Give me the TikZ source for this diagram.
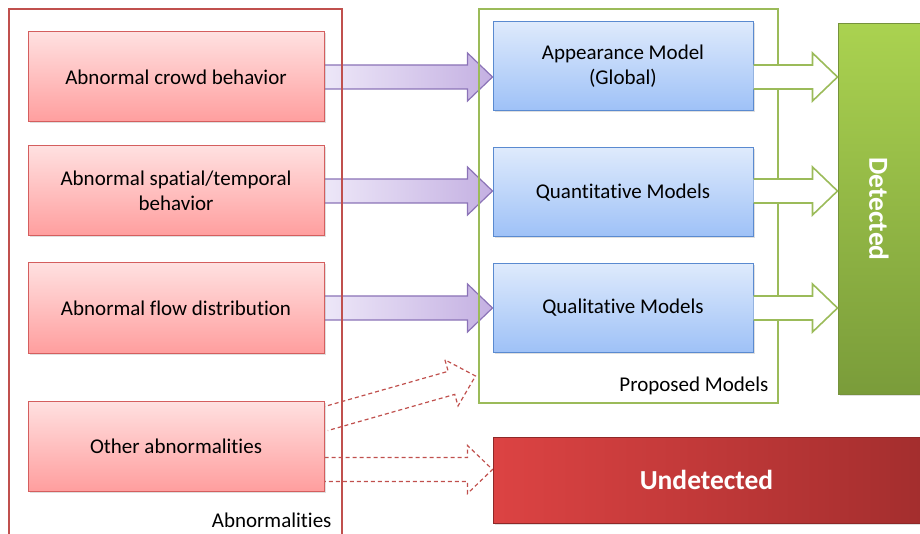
\documentclass[tikz,border=0pt]{standalone}
\usepackage{fontspec}
\setmainfont{Carlito}[Ligatures=NoCommon]
\usetikzlibrary{calc,shadows,backgrounds}

\definecolor{boxred}{HTML}{D45E5E}
\definecolor{framered}{HTML}{C0504D}
\definecolor{boxblue}{HTML}{5A8AD0}
\definecolor{arrowpurple}{HTML}{8B73B7}
\definecolor{framegreen}{HTML}{9BBB59}
\definecolor{detgreen}{HTML}{76923C}
\definecolor{undred}{HTML}{8E2828}

\tikzset{
  abnbox/.style={draw=boxred, line width=1pt, top color=red!12, bottom color={rgb,255:red,255;green,158;blue,158},
    minimum width=296, minimum height=90, align=center,
    drop shadow={opacity=0.25, shadow xshift=1.5pt, shadow yshift=-1.5pt}},
  modbox/.style={draw=boxblue, line width=1pt, top color={rgb,255:red,222;green,234;blue,252}, bottom color={rgb,255:red,158;green,193;blue,247},
    minimum width=260, minimum height=89, align=center,
    drop shadow={opacity=0.25, shadow xshift=1.5pt, shadow yshift=-1.5pt}},
  frame/.style={line width=1.6pt, minimum width=#1},
  flowarrow/.style={draw=arrowpurple, line width=1.2pt, left color={rgb,255:red,237;green,231;blue,248}, right color={rgb,255:red,196;green,176;blue,226}},
  passarrow/.style={draw=framegreen, line width=1.6pt, fill=white},
  missarrow/.style={draw=framered, line width=1.2pt, dash pattern=on 4pt off 3pt},
}

% hollow block arrow: start, tip
\newcommand{\blockarrow}[3][]{%
  \coordinate (ba-b) at ($(#3)!25pt!(#2)$);
  \path[#1] ($(#2)!12pt!90:(#3)$) -- ($(ba-b)!12pt!90:(#3)$) -- ($(ba-b)!24pt!90:(#3)$)
    -- (#3) -- ($(ba-b)!24pt!-90:(#3)$) -- ($(ba-b)!12pt!-90:(#3)$) -- ($(#2)!12pt!-90:(#3)$);
}

\begin{document}
\begin{tikzpicture}[x=1pt,y=-1pt,font=\fontsize{21}{25}\selectfont]
\useasboundingbox (0,0) rectangle (920,534);

% abnormalities
\node[abnbox] (crowd) at (176,77) {Abnormal crowd behavior};
\node[abnbox] (spatial) at (176,191) {Abnormal spatial/temporal\\behavior};
\node[abnbox] (flow) at (176,308) {Abnormal flow distribution};
\node[abnbox] (other) at (176,446) {Other abnormalities};

% models
\node[modbox] (appear) at (623,66.5) {Appearance Model\\(Global)};
\node[modbox] (quant) at (623,192.5) {Quantitative Models};
\node[modbox] (qual) at (623,308) {Qualitative Models};

% results
\node[draw=detgreen, line width=1pt, top color={rgb,255:red,170;green,210;blue,80}, bottom color={rgb,255:red,122;green,156;blue,58},
  minimum width=82, minimum height=370, text=white, font=\fontsize{27.5}{30}\selectfont\bfseries,
  drop shadow={opacity=0.25, shadow xshift=1.5pt, shadow yshift=-1.5pt}] (det) at (879,209) {\rotatebox{-90}{Detected}};
\node[draw=undred, line width=1pt, left color={rgb,255:red,220;green,67;blue,67}, right color={rgb,255:red,164;green,46;blue,46},
  minimum width=427, minimum height=86, text=white, font=\fontsize{27.5}{30}\selectfont\bfseries,
  drop shadow={opacity=0.25, shadow xshift=1.5pt, shadow yshift=-1.5pt}] (undet) at (706.5,480) {Undetected};

% frames
\node[frame=333, draw=framered, minimum height=560] (abnarea) at (175.5,289) {};
\node[anchor=east] (abnlabel) at (335,520) {Abnormalities};
\node[frame=299, draw=framegreen, minimum height=394] (models) at (628.5,206) {};
\node[anchor=east] (modlabel) at (772,386) {Proposed Models};

\begin{scope}[on background layer]
\coordinate (t1) at (crowd.east -| appear.west);
\coordinate (t2) at (spatial.east -| quant.west);
\coordinate (t3) at (flow.east -| qual.west);
\blockarrow[flowarrow]{crowd.east}{t1}
\blockarrow[flowarrow]{spatial.east}{t2}
\blockarrow[flowarrow]{flow.east}{t3}

\coordinate (s4) at ($(other.east)+(0,-27)$);
\coordinate (t4) at ($(other.east)+(151,-70)$);
\coordinate (s5) at ($(other.east)+(0,23.5)$);
\coordinate (t5) at (s5 -| undet.west);
\blockarrow[missarrow]{s4}{t4}
\blockarrow[missarrow]{s5}{t5}
\end{scope}

\coordinate (g1s) at (appear.east |- crowd.east);
\coordinate (g1t) at (det.west |- crowd.east);
\coordinate (g2s) at (quant.east |- spatial.east);
\coordinate (g2t) at (det.west |- spatial.east);
\coordinate (g3s) at (qual.east |- flow.east);
\coordinate (g3t) at (det.west |- flow.east);
\blockarrow[passarrow]{g1s}{g1t}
\blockarrow[passarrow]{g2s}{g2t}
\blockarrow[passarrow]{g3s}{g3t}

\end{tikzpicture}
\end{document}
